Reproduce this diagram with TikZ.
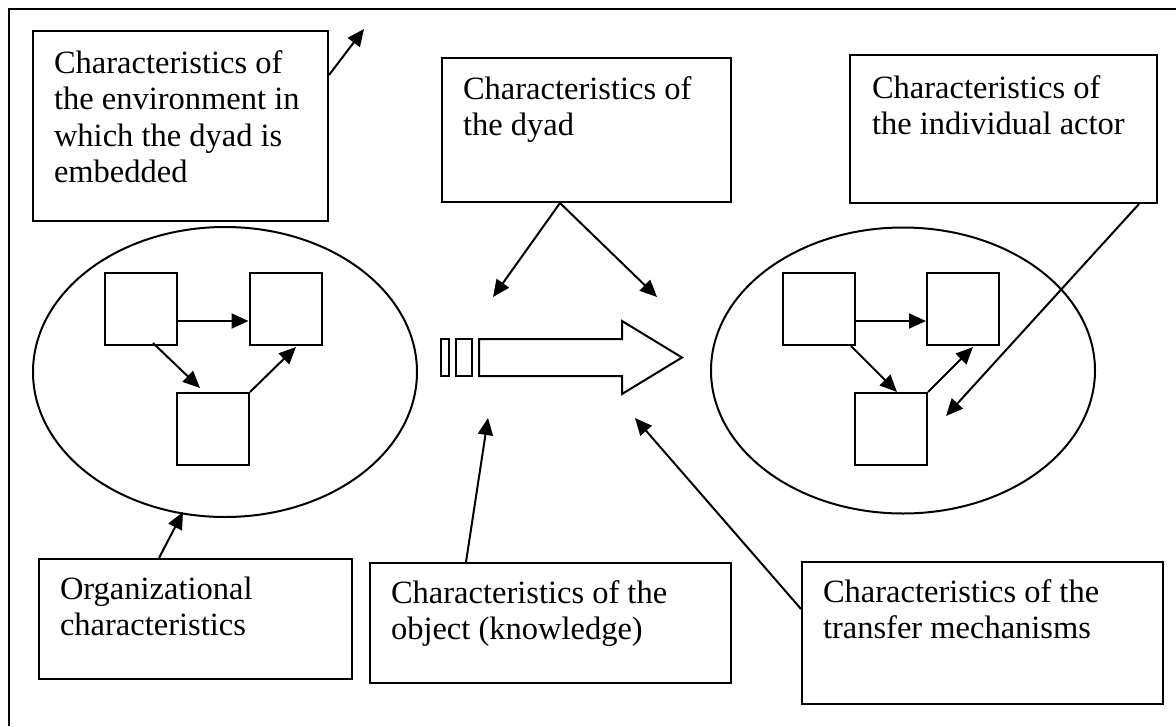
\documentclass[tikz,border=0pt]{standalone}
\usepackage{fontspec}
\setmainfont{Liberation Serif}
\usetikzlibrary{arrows.meta,shapes.geometric}
\begin{document}
\begin{tikzpicture}[x=1pt,y=-1pt,line width=2pt,
  box/.style={draw,rectangle,inner sep=0pt,anchor=north west},
  sq/.style={draw,rectangle,minimum size=72pt,inner sep=0pt},
  oval/.style={draw,ellipse,minimum width=384pt,minimum height=290pt,inner sep=0pt},
  txt/.style={anchor=north west,inner sep=0pt,align=left,font=\fontsize{32.5}{36.5}\selectfont},
  arr/.style={-{Triangle[length=17pt,width=15pt]}}]
\useasboundingbox (0,0) rectangle (1176,726);
% outer frame (cut at right and bottom)
\draw (1176,9) -- (9,9) -- (9,726);

% text boxes
\node[box,minimum width=295pt,minimum height=190pt] (env) at (32,30) {};
\node[txt] (envt) at (53,47) {\rule{0pt}{25pt}Characteristics of\\the environment in\\which the dyad is\\embedded};
\node[box,minimum width=289pt,minimum height=144pt] (dyad) at (441,57) {};
\node[txt] (dyadt) at (462,73) {\rule{0pt}{25pt}Characteristics of\\the dyad};
\node[box,minimum width=307pt,minimum height=148pt] (actor) at (849,54) {};
\node[txt] (actort) at (871,72) {\rule{0pt}{25pt}Characteristics of\\the individual actor};
\node[box,minimum width=313pt,minimum height=120pt] (org) at (38,558) {};
\node[txt] (orgt) at (59,573) {\rule{0pt}{25pt}Organizational\\characteristics};
\node[box,minimum width=361pt,minimum height=120pt] (obj) at (369,562) {};
\node[txt] (objt) at (390,577) {\rule{0pt}{25pt}Characteristics of the\\object (knowledge)};
\node[box,minimum width=361pt,minimum height=142pt] (trans) at (801,561) {};
\node[txt] (transt) at (822,576) {\rule{0pt}{25pt}Characteristics of the\\transfer mechanisms};

% ellipses with squares
\node[oval] (lov) at (225,372) {};
\node[sq] (L1) at (141,309) {};
\node[sq] (L2) at (285.5,309) {};
\node[sq] (L3) at (213,429) {};
\node[oval,minimum height=286pt] (rov) at (903,370.5) {};
\node[sq] (R1) at (819,309) {};
\node[sq] (R2) at (963,309) {};
\node[sq] (R3) at (891,429) {};

\draw[arr] (L1.east |- 0,321) -- (L2.west |- 0,321);
\draw[arr] ([xshift=12pt,yshift=3pt]L1.south) -- ([xshift=-13pt,yshift=4pt]L3.north);
\draw[arr] (L3.north east) -- ([xshift=10.5pt,yshift=-1pt]L2.south);
\draw[arr] (R1.east |- 0,321) -- (R2.west |- 0,321);
\draw[arr] ([xshift=-5pt]R1.south east) -- ([xshift=6pt]R3.north);
\draw[arr] (R3.north east) -- ([xshift=10pt,yshift=-1pt]R2.south);

% block arrow
\node[draw,rectangle,inner sep=0pt,minimum width=8pt,minimum height=37pt] (bar1) at (445,357.5) {};
\node[draw,rectangle,inner sep=0pt,minimum width=16pt,minimum height=37pt] (bar2) at (464,357.5) {};
\draw[line join=miter] (479,339) -- (622,339) -- (622,321) -- (682,357.5) -- (622,394) -- (622,376) -- (479,376) -- cycle;

% free arrow ends
\coordinate (envtip) at (364,29);
\coordinate (dtipl) at (493,297);
\coordinate (dtipr) at (657,297);
\coordinate (atip) at (946,416);
\coordinate (otip) at (183,512);
\coordinate (objtip) at (488,418);
\coordinate (ttip) at (635,418);

\draw[arr] ([yshift=-45pt]env.north east) -- (envtip);
\draw[arr] ([xshift=-26.5pt]dyad.south) -- (dtipl);
\draw[arr] ([xshift=-26.5pt]dyad.south) -- (dtipr);
\draw[arr] ([xshift=-19pt]actor.south east) -- (atip);
\draw[arr] ([xshift=121pt]org.north west) -- (otip);
\draw[arr] ([xshift=97pt]obj.north west) -- (objtip);
\draw[arr] ([yshift=-48pt]trans.north west) -- (ttip);
\end{tikzpicture}
\end{document}
